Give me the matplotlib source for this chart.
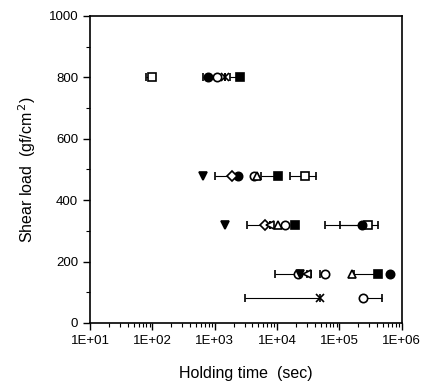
import matplotlib
matplotlib.use('Agg')
import matplotlib.pyplot as plt
from matplotlib.ticker import FixedLocator, LogLocator, NullFormatter

plt.rcParams['font.family'] = ['Liberation Sans', 'DejaVu Sans']

# each series: shear load (gf/cm2), holding time (sec), error bar low / high (sec)
sq_open_load = [800, 480, 320]
sq_open_time = [97, 28000, 288000]
sq_open_lo = [78, 16000, 102000]
sq_open_hi = [97, 42000, 417000]

circ_fill_load = [800, 480, 320, 160]
circ_fill_time = [767, 2400, 229000, 650000]
circ_fill_lo = [638, 2400, 59000, 650000]
circ_fill_hi = [767, 2400, 229000, 650000]

circ_open_load = [800, 480, 320, 160, 160, 80]
circ_open_time = [1070, 4300, 13500, 22000, 59000, 240000]
circ_open_lo = [1070, 4300, 13500, 9400, 49000, 240000]
circ_open_hi = [1070, 4300, 13500, 22000, 59000, 480000]

cross_load = [800, 80]
cross_time = [1480, 49000]
cross_lo = [1480, 3100]
cross_hi = [1480, 49000]

sq_fill_load = [800, 480, 320, 160]
sq_fill_time = [2570, 10500, 19600, 417000]
sq_fill_lo = [1780, 5500, 19600, 170000]
sq_fill_hi = [2570, 10500, 19600, 417000]

tri_down_load = [480, 320, 160]
tri_down_time = [638, 1480, 23400]
tri_down_lo = [638, 1480, 23400]
tri_down_hi = [638, 1480, 23400]

tri_up_load = [480, 320, 160]
tri_up_time = [4700, 10500, 160000]
tri_up_lo = [4700, 10500, 160000]
tri_up_hi = [4700, 10500, 160000]

diam_load = [480, 320]
diam_time = [1900, 6500]
diam_lo = [1000, 3300]
diam_hi = [1900, 6500]

tri_left_load = [320, 160]
tri_left_time = [7800, 30000]
tri_left_lo = [7800, 30000]
tri_left_hi = [7800, 35000]

series = [
    (sq_open_load, sq_open_time, sq_open_lo, sq_open_hi, 's', 'white', 5.5),
    (circ_fill_load, circ_fill_time, circ_fill_lo, circ_fill_hi, 'o', 'black', 6),
    (circ_open_load, circ_open_time, circ_open_lo, circ_open_hi, 'o', 'white', 6),
    (cross_load, cross_time, cross_lo, cross_hi, 'x', 'black', 6),
    (sq_fill_load, sq_fill_time, sq_fill_lo, sq_fill_hi, 's', 'black', 5.5),
    (tri_down_load, tri_down_time, tri_down_lo, tri_down_hi, 'v', 'black', 6),
    (tri_up_load, tri_up_time, tri_up_lo, tri_up_hi, '^', 'white', 6),
    (diam_load, diam_time, diam_lo, diam_hi, 'D', 'white', 4.8),
    (tri_left_load, tri_left_time, tri_left_lo, tri_left_hi, '<', 'white', 5.5),
]

fig = plt.figure(figsize=(4.27, 3.90), dpi=100)
ax = fig.add_axes([0.211, 0.172, 0.730, 0.787])

for load, t, lo, hi, mk, fc, ms in series:
    err = [[ti - l for ti, l in zip(t, lo)], [h - ti for ti, h in zip(t, hi)]]
    ax.errorbar(t, load, xerr=err, fmt=mk, mfc=fc, mec='black', mew=1.2, ms=ms,
                ecolor='black', elinewidth=0.8, capsize=3, capthick=0.8, zorder=3)

ax.set_xscale('log')
ax.set_xlim(10, 1e6)
ax.set_ylim(0, 1000)
ax.set_xticks([1e1, 1e2, 1e3, 1e4, 1e5, 1e6])
ax.set_xticklabels(['1E+01', '1E+02', '1E+03', '1E+04', '1E+05', '1E+06'])
ax.xaxis.set_minor_locator(LogLocator(base=10, subs=range(2, 10)))
ax.xaxis.set_minor_formatter(NullFormatter())
ax.set_yticks([0, 200, 400, 600, 800, 1000])
ax.yaxis.set_minor_locator(FixedLocator([100, 300, 500, 700, 900]))

ax.tick_params(which='major', direction='out', length=5, width=1, labelsize=9.5, colors='black')
ax.tick_params(which='minor', direction='out', length=3, width=0.8)
for s in ax.spines.values():
    s.set_linewidth(1.2)

ax.set_xlabel('Holding time  (sec)', fontsize=11.5, labelpad=14)
ax.set_ylabel('Shear load  (gf/cm$^{\\,2}$)', fontsize=11.5, labelpad=8)

fig.savefig('out.png', dpi=100)
